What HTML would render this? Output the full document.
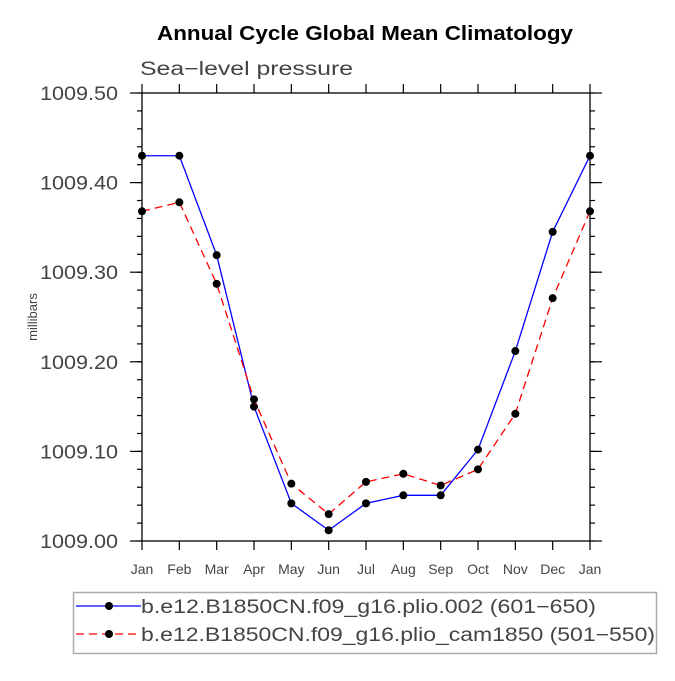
<!DOCTYPE html>
<html><head><meta charset="utf-8"><style>
body{margin:0;background:#fff;}
svg text{font-family:"Liberation Sans",sans-serif;}
</style></head><body>
<svg id="chart" width="675" height="676" xmlns="http://www.w3.org/2000/svg">
<text x="157" y="40" font-size="20" font-weight="bold" textLength="416" lengthAdjust="spacingAndGlyphs">Annual Cycle Global Mean Climatology</text>
<text x="140" y="75" font-size="19" fill="#444" textLength="213" lengthAdjust="spacingAndGlyphs">Sea−level pressure</text>
<text transform="translate(37,317) rotate(-90)" text-anchor="middle" font-size="13" fill="#444">millibars</text>
<g id="axes"></g>
<g id="series"></g>
<g>
<rect x="73.5" y="592.5" width="583" height="61" fill="none" stroke="#aaa" stroke-width="1.5"/>
<g>
<line x1="76" y1="606" x2="141" y2="606" stroke="#0000ff" stroke-width="1.3"/>
<circle cx="109" cy="606" r="4" fill="#000"/>
<text x="141" y="613" font-size="19" fill="#444" textLength="455" lengthAdjust="spacingAndGlyphs">b.e12.B1850CN.f09_g16.plio.002 (601−650)</text>
</g>
<g>
<line x1="76" y1="634" x2="141" y2="634" stroke="#ff0000" stroke-width="1.3" stroke-dasharray="8,5"/>
<circle cx="109" cy="634" r="4" fill="#000"/>
<text x="141" y="641" font-size="19" fill="#444" textLength="514" lengthAdjust="spacingAndGlyphs">b.e12.B1850CN.f09_g16.plio_cam1850 (501−550)</text>
</g>
</g>
</svg>
<script>
const months = ["Jan","Feb","Mar","Apr","May","Jun","Jul","Aug","Sep","Oct","Nov","Dec","Jan"];
const seriesPlio002 = [1009.430,1009.430,1009.319,1009.150,1009.042,1009.012,1009.042,1009.051,1009.051,1009.102,1009.212,1009.345,1009.430];
const seriesCam1850 = [1009.368,1009.378,1009.287,1009.158,1009.064,1009.030,1009.066,1009.075,1009.062,1009.080,1009.142,1009.271,1009.368];
const yTicks = [1009.00,1009.10,1009.20,1009.30,1009.40,1009.50];
const yTickLabels = ["1009.00","1009.10","1009.20","1009.30","1009.40","1009.50"];

const NS="http://www.w3.org/2000/svg";
const L=142,R=590,T=93,B=541,yMin=1009.0,yMax=1009.5;
const xS=i=>L+(R-L)*i/(months.length-1);
const yS=v=>B-(v-yMin)/(yMax-yMin)*(B-T);
function mk(tag,attrs,parent){const e=document.createElementNS(NS,tag);for(const k in attrs)e.setAttribute(k,attrs[k]);parent.appendChild(e);return e;}
const ax=document.getElementById('axes');
const frame=mk('rect',{x:L,y:T,width:R-L,height:B-T,fill:'none',stroke:'#000','stroke-width':1.3},ax);


months.forEach((m,i)=>{
  const x=xS(i);
  mk('line',{x1:x,y1:B,x2:x,y2:B+9,stroke:'#000','stroke-width':1.2},ax);
  mk('line',{x1:x,y1:T,x2:x,y2:T-9,stroke:'#000','stroke-width':1.2},ax);
  const t=mk('text',{x:x,y:B+33,'text-anchor':'middle','font-size':14,fill:'#444'},ax);
  t.textContent=m;
  
  
});
for(let v=yMin;v<=yMax+1e-9;v+=0.02){
  const y=yS(v);
  mk('line',{x1:L,y1:y,x2:L-5,y2:y,stroke:'#000','stroke-width':1.2},ax);
  mk('line',{x1:R,y1:y,x2:R+5,y2:y,stroke:'#000','stroke-width':1.2},ax);
}
yTicks.forEach((v,i)=>{
  const y=yS(v);
  mk('line',{x1:L,y1:y,x2:L-12,y2:y,stroke:'#000','stroke-width':1.2},ax);
  mk('line',{x1:R,y1:y,x2:R+12,y2:y,stroke:'#000','stroke-width':1.2},ax);
  const t=mk('text',{x:40,y:y+7,'font-size':19,fill:'#444',textLength:78,lengthAdjust:'spacingAndGlyphs'},ax);
  t.textContent=yTickLabels[i];
  
  
});
const sg=document.getElementById('series');
function draw(vals,color,dash,name){
  const g=mk('g',{},sg);
  
  
  const a={points:vals.map((v,i)=>xS(i)+','+yS(v)).join(' '),fill:'none',stroke:color,'stroke-width':1.3};
  if(dash)a['stroke-dasharray']=dash;
  mk('polyline',a,g);
  vals.forEach((v,i)=>{
    const c=mk('circle',{cx:xS(i),cy:yS(v),r:4,fill:'#000'},g);
    
    
  });
}
draw(seriesPlio002,'#0000ff',null,'series-plio-002');
draw(seriesCam1850,'#ff0000','8,5','series-plio-cam1850');
</script>
</body></html>
